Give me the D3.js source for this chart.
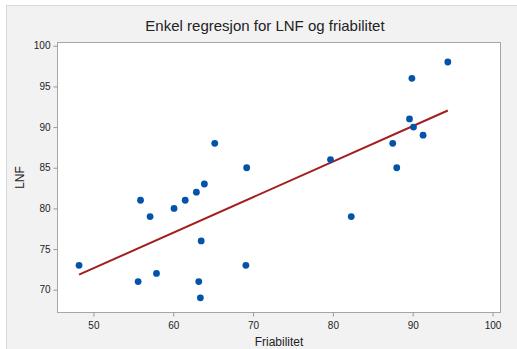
<!DOCTYPE html>
<html>
<head>
<meta charset="utf-8">
<script src="https://cdn.jsdelivr.net/npm/d3@7"></script>
<style>
  body { margin: 0; background: #fff; }
  text { font-family: "Liberation Sans", Arial, sans-serif; }
</style>
</head>
<body>
<svg id="chart" width="517" height="349"></svg>
<script>
// Friabilitet (x) and LNF (y)
var friabilitet = [48.2, 55.6, 55.9, 57.1, 57.9, 60.1, 61.5, 62.9, 63.2, 63.4, 63.5, 63.9,
  65.2, 69.1, 69.2, 79.7, 82.3, 87.5, 88.0, 89.6, 89.9, 90.1, 91.3, 94.4];
var lnf = [73, 71, 81, 79, 72, 80, 81, 82, 71, 69, 76, 83,
  88, 73, 85, 86, 79, 88, 85, 91, 96, 90, 89, 98];
var xTicks = [50, 60, 70, 80, 90, 100];
var yTicks = [70, 75, 80, 85, 90, 95, 100];

var svg = d3.select("#chart");
var width = +svg.attr("width");
var height = +svg.attr("height");

// panel background
svg.append("rect")
  .attr("x", 6.5).attr("y", 5.5)
  .attr("width", width).attr("height", height)
  .attr("fill", "#f2f2f2")
  .attr("stroke", "#d9d9d9");

var plot = { left: 57.5, right: 500.5, top: 42.5, bottom: 312.5 };

var x = d3.scaleLinear()
  .domain([45.5, 101])
  .range([plot.left, plot.right]);

var y = d3.scaleLinear()
  .domain([67.2, 100.4])
  .range([plot.bottom, plot.top]);

svg.append("rect")
  .attr("x", plot.left).attr("y", plot.top)
  .attr("width", plot.right - plot.left)
  .attr("height", plot.bottom - plot.top)
  .attr("fill", "#fff")
  .attr("stroke", "#a6a6a6");

var xAxis = svg.append("g")
  .attr("transform", "translate(0," + plot.bottom + ")")
  .call(d3.axisBottom(x).tickValues(xTicks).tickSize(4).tickSizeOuter(0));
var yAxis = svg.append("g")
  .attr("transform", "translate(" + plot.left + ",0)")
  .call(d3.axisLeft(y).tickValues(yTicks).tickSize(4).tickSizeOuter(0));

[xAxis, yAxis].forEach(function (a) {
  a.select(".domain").remove();
  a.selectAll(".tick line").attr("stroke", "#999");
  a.selectAll(".tick text")
    .attr("fill", "#222")
    .style("font-size", "10px")
    .style("font-family", "'Liberation Sans', Arial, sans-serif");
});
xAxis.selectAll(".tick text").attr("dy", "0.9em");

// least squares fit
var mx = d3.mean(friabilitet), my = d3.mean(lnf);
var sxy = d3.sum(friabilitet, function (v, i) { return (v - mx) * (lnf[i] - my); });
var sxx = d3.sum(friabilitet, function (v) { return (v - mx) * (v - mx); });
var slope = sxy / sxx;
var intercept = my - slope * mx;
var xExt = d3.extent(friabilitet);

svg.append("line")
  .attr("x1", x(xExt[0])).attr("y1", y(intercept + slope * xExt[0]))
  .attr("x2", x(xExt[1])).attr("y2", y(intercept + slope * xExt[1]))
  .attr("stroke", "#a21f1f")
  .attr("stroke-width", 2);

svg.append("g")
  .selectAll("circle")
  .data(friabilitet)
  .join("circle")
  .attr("cx", function (d) { return x(d); })
  .attr("cy", function (d, i) { return y(lnf[i]); })
  .attr("r", 3.4)
  .attr("fill", "#0553a8");

svg.append("text")
  .attr("x", 265).attr("y", 31)
  .attr("text-anchor", "middle")
  .style("font-size", "15px")
  .attr("fill", "#222")
  .text("Enkel regresjon for LNF og friabilitet");

svg.append("text")
  .attr("x", (plot.left + plot.right) / 2).attr("y", 346)
  .attr("text-anchor", "middle")
  .style("font-size", "12px")
  .attr("fill", "#222")
  .text("Friabilitet");

svg.append("text")
  .attr("transform", "translate(24," + ((plot.top + plot.bottom) / 2) + ") rotate(-90)")
  .attr("text-anchor", "middle")
  .style("font-size", "12px")
  .attr("fill", "#222")
  .text("LNF");
</script>
</body>
</html>
